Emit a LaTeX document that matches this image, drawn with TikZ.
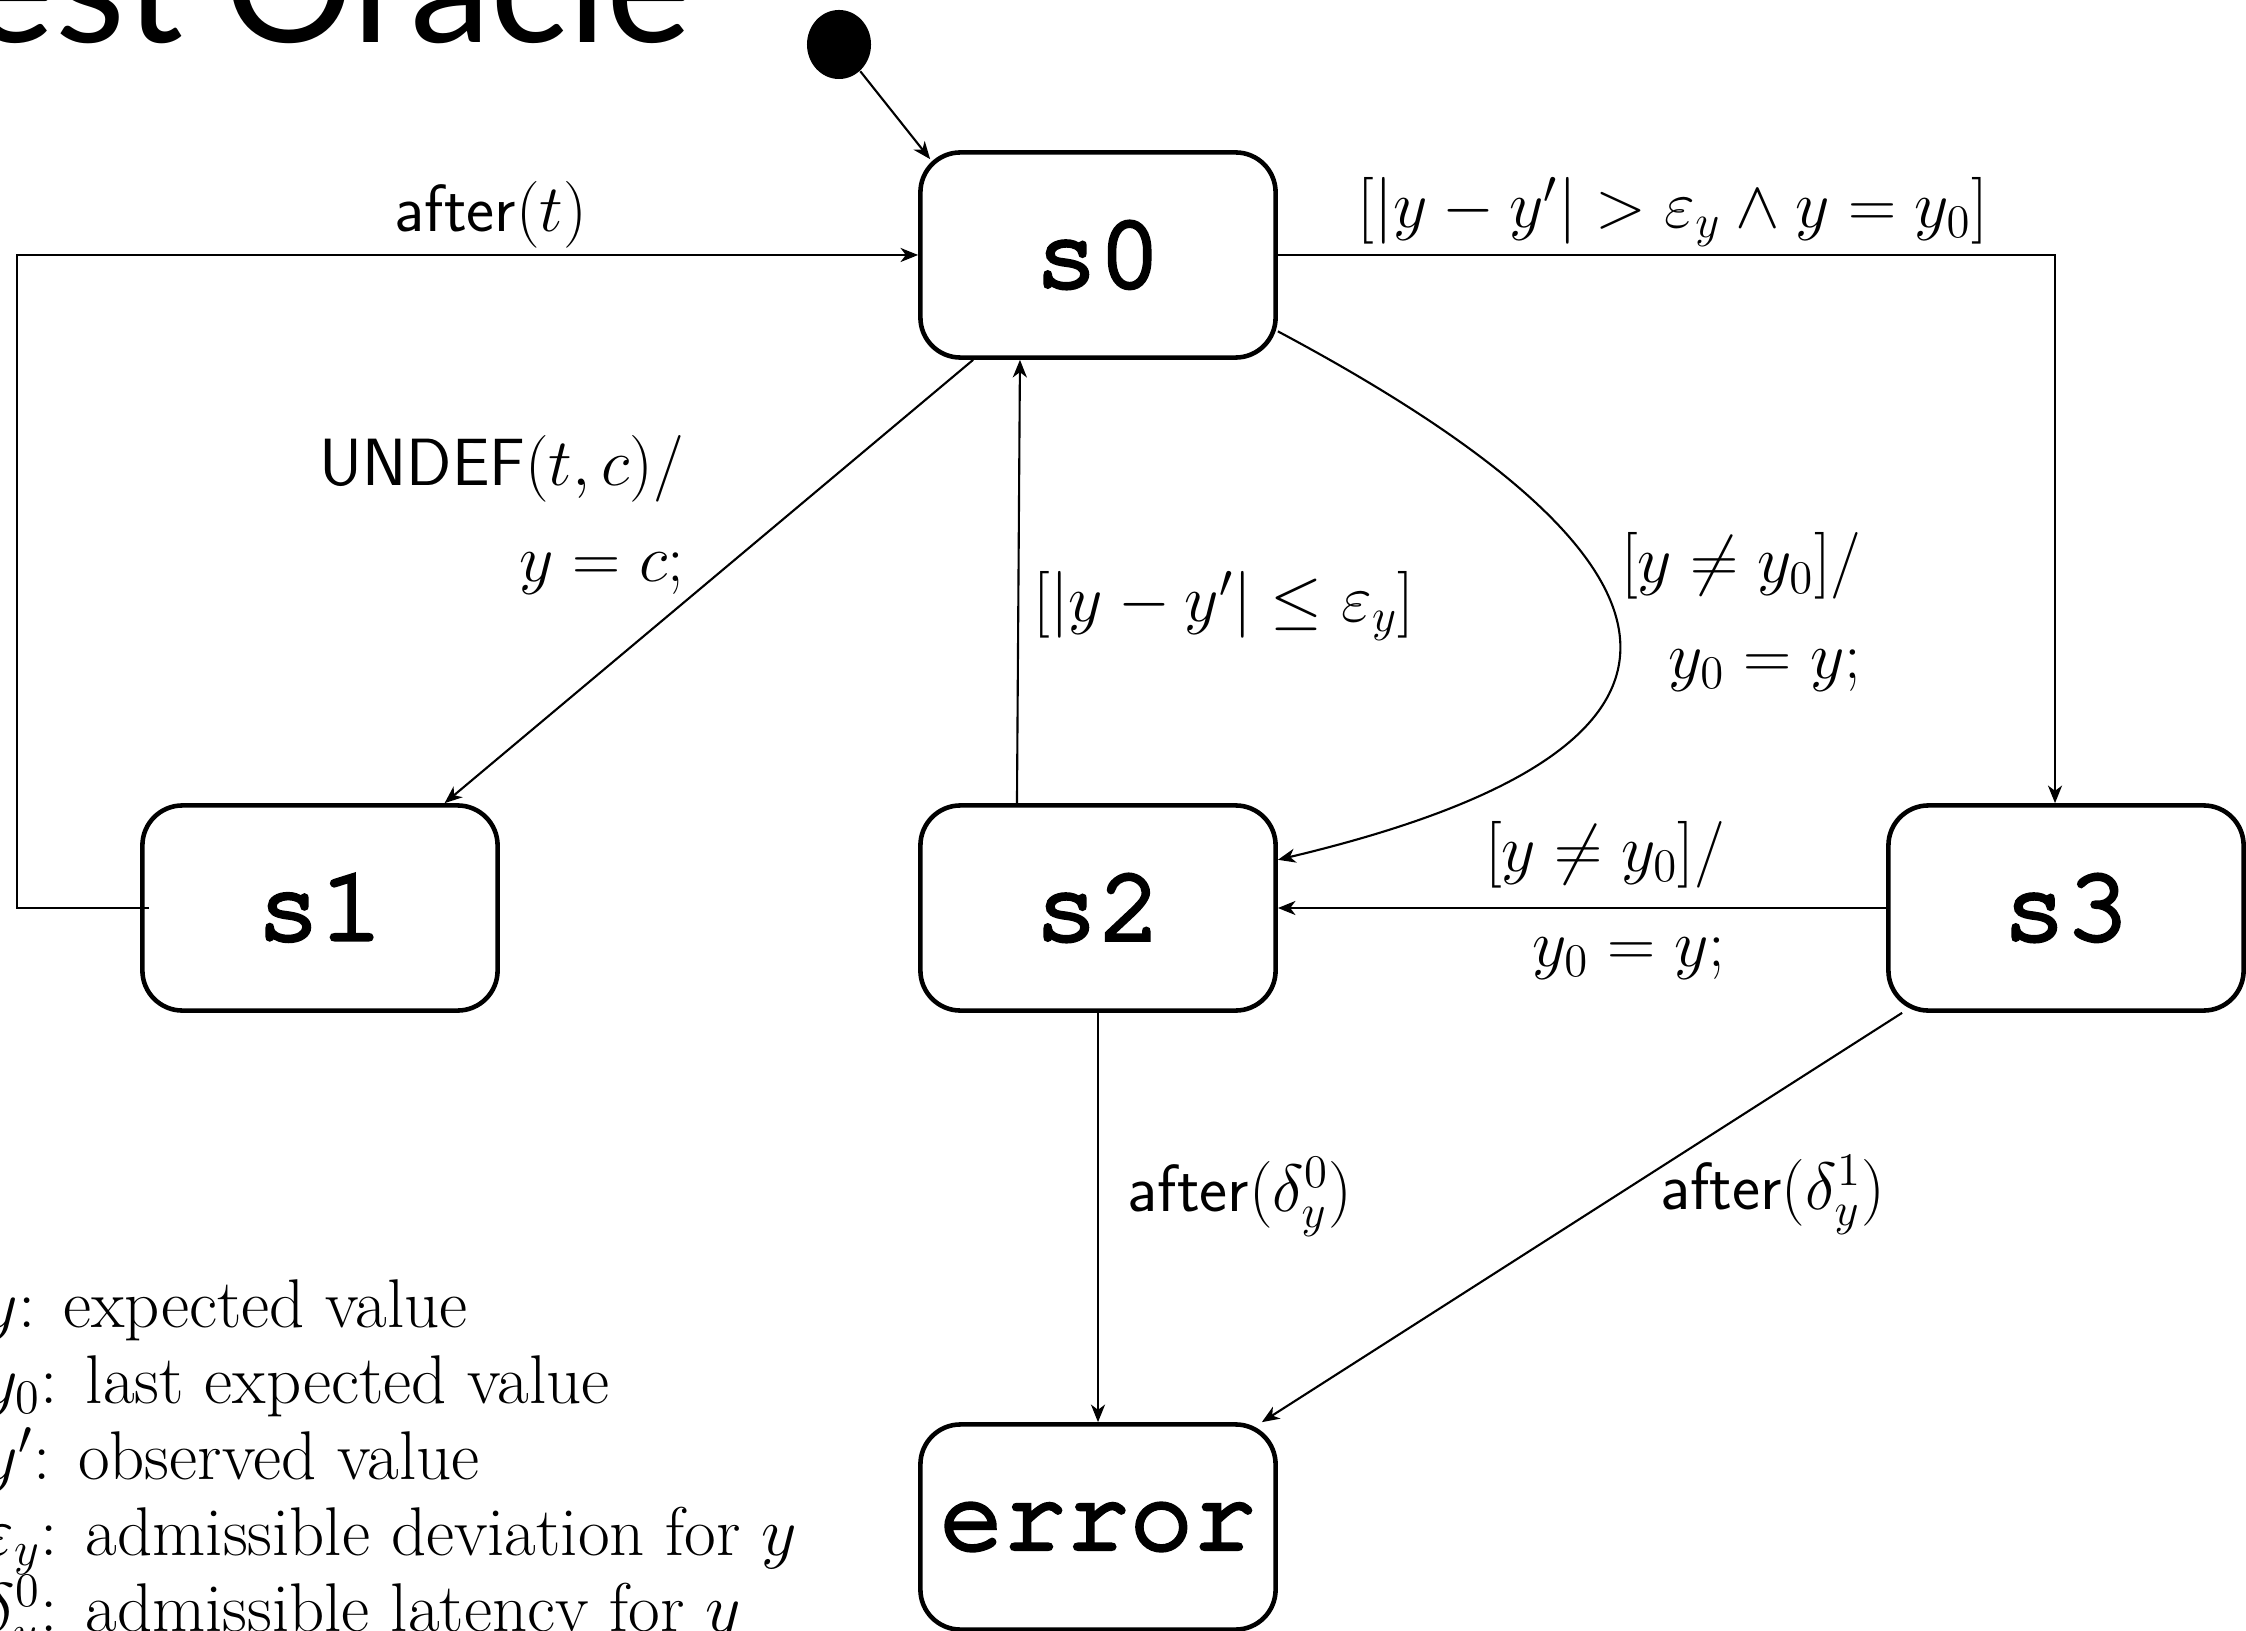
\RequirePackage{fix-cm}
\documentclass[tikz,border=0pt]{standalone}
\usepackage{fontspec}
\usepackage{amsmath}
\newfontfamily\titlefont{Lato}
\newfontfamily\stfontfam[FakeBold=4]{TeX Gyre Cursor}
\newcommand\stfont{\stfontfam\fontsize{30}{36}\selectfont}
\usetikzlibrary{arrows.meta,shapes.geometric,calc}
\begin{document}
\begin{tikzpicture}[x=0.01cm,y=-0.01cm,
  state/.style={draw,line width=1.3pt,rounded corners=0.4cm,minimum width=3.55cm,minimum height=2.05cm,inner sep=0pt,font=\stfont},
  arr/.style={-{Stealth[length=5pt,width=4pt,inset=1.5pt]},line width=0.6pt},
  lbl/.style={inner sep=0pt,font=\fontsize{19}{23}\selectfont},
  leg/.style={inner sep=0pt,anchor=base west,font=\fontsize{19.6}{23}\selectfont},
]
\useasboundingbox (0,0) rectangle (2246,1631);

% title (cut off by the page)
\node[inner sep=0pt,anchor=base east,font=\titlefont\fontsize{46}{50}\selectfont] (title) at (692,43) {Test Oracle};

% initial pseudo state
\node[ellipse,fill,inner sep=0pt,minimum width=0.64cm,minimum height=0.69cm] (init) at (839,44.5) {};

% states
\node[state] (s0) at (1098,255) {s0};
\node[state] (s1) at (320,908) {s1};
\node[state] (s2) at (1098,908) {s2};
\node[state] (s3) at (2066,908) {s3};
\node[state] (err) at (1098,1527) {error};

\coordinate (xl) at (17,908);

% transitions
\draw[arr] (init) -- ([shift={(12,9)}]s0.north west);
\draw[arr] ([xshift=0.09cm]s1.west) -- (xl) |- (s0.west);
\draw[arr] (s0) -- (s1);
\draw[arr] ([xshift=-0.81cm]s2.north) -- ([xshift=-0.78cm]s0.south);
\draw[arr] (s0.-23.7) .. controls (1720,567) and (1745,749) .. (s2.15.2);
\draw[arr] (s0.east) -| ([xshift=-0.11cm]s3.north);
\draw[arr] (s3) -- (s2);
\draw[arr] (s2) -- (err);
\draw[arr] (s3) -- (err);

% labels
\node[lbl] (l1) at (491,215) {\textsf{after}$(t)$};
\node[lbl,anchor=base east] (l2a) at (685,486) {\textsf{UNDEF}$(t,c)/$};
\node[lbl,anchor=base east] (l2b) at (685,582) {$y=c;$};
\node[lbl,anchor=west] (l3) at (1033,606) {$[|y-y'|\leq\varepsilon_y]$};
\node[lbl] (l4) at (1673,212) {$[|y-y'|>\varepsilon_y\wedge y=y_0]$};
\node[lbl,anchor=base east] (l5a) at (1862,583) {$[y\neq y_0]/$};
\node[lbl,anchor=base east] (l5b) at (1862,678) {$y_0=y;$};
\node[lbl,anchor=base east] (l6a) at (1726,871) {$[y\neq y_0]/$};
\node[lbl,anchor=base east] (l6b) at (1726,966) {$y_0=y;$};
\node[lbl,anchor=west] (l7) at (1127,1197) {\textsf{after}$(\delta_y^0)$};
\node[lbl] (l8) at (1773,1195) {\textsf{after}$(\delta_y^1)$};

% legend (cut off by the page)
\node[leg] (g1) at (-18,1327) {$y$: expected value};
\node[leg] (g2) at (-18,1403) {$y_0$: last expected value};
\node[leg] (g3) at (-18,1479) {$y'$: observed value};
\node[leg] (g4) at (-18,1555) {$\varepsilon_y$: admissible deviation for $y$};
\node[leg] (g5) at (-18,1631) {$\delta_y^0$: admissible latency for $y$};
\end{tikzpicture}
\end{document}
